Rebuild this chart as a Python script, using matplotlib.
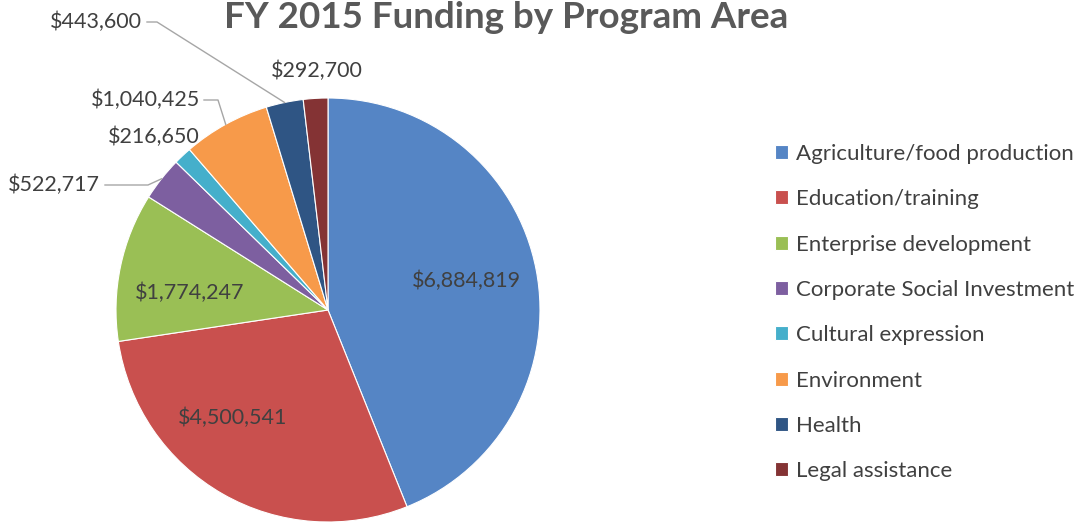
import numpy as np
import matplotlib
matplotlib.use("Agg")
import matplotlib.pyplot as plt

categories = ["Agriculture/food production", "Education/training", "Enterprise development",
              "Corporate Social Investment", "Cultural expression", "Environment",
              "Health", "Legal assistance"]
values = [6884819, 4500541, 1774247, 522717, 216650, 1040425, 443600, 292700]
colors = ["#5585C5", "#C9504E", "#9ABF55", "#7D5FA0", "#45AFCB", "#F79A4A", "#2F5584", "#843334"]
title = "FY 2015 Funding by Program Area"

plt.rcParams['font.family'] = ['Lato', 'DejaVu Sans']
W, H = 1080, 525
fig = plt.figure(figsize=(W / 100, H / 100), dpi=100)
ax = fig.add_axes([0, 0, 1, 1])

cx, cy, R = 328, H - 310, 212
wedges, _ = ax.pie(values, colors=colors, startangle=90, counterclock=False,
                   center=(cx, cy), radius=R, frame=True,
                   wedgeprops=dict(linewidth=0.8, edgecolor='white'))
ax.set_xlim(0, W)
ax.set_ylim(0, H)
ax.set_aspect('equal')
ax.axis('off')

fmt = lambda v: "${:,}".format(v)
txtc = "#404040"
fs = 15.5

# label placement (pixel coords, y from top): (x, y, ha)
label_pos = [(466, 281, 'center'), (233, 418, 'center'), (190, 293, 'center'),
             (100, 185, 'right'), (200, 137, 'right'), (200, 100, 'right'),
             (142, 22, 'right'), (317, 71, 'center')]
for v, (x, y, ha) in zip(values, label_pos):
    ax.text(x, H - y, fmt(v), ha=ha, va='center', fontsize=fs, color=txtc)

# leader lines: index -> (start x, elbow x)
leaders = {3: (105, 148), 5: (204, 218), 6: (147, 157)}
for i, (sx, ex) in leaders.items():
    w = wedges[i]
    mid = np.deg2rad((w.theta1 + w.theta2) / 2)
    px, py = cx + R * np.cos(mid), cy + R * np.sin(mid)
    y = H - label_pos[i][1]
    ax.plot([sx, ex, px], [y, y, py], color="#A6A6A6", lw=1.0)

ax.text(506, H - 28, title, ha='center', va='baseline', fontsize=26.5,
        fontweight='bold', color="#595959")

leg = ax.legend(wedges, categories, loc='upper left', bbox_to_anchor=(766 / W, 1 - 135 / H),
                frameon=False, fontsize=16, handlelength=0.6, handleheight=0.6,
                handletextpad=0.35, labelspacing=1.14, borderaxespad=0)
for t in leg.get_texts():
    t.set_color(txtc)

fig.savefig("out.png", dpi=100)
